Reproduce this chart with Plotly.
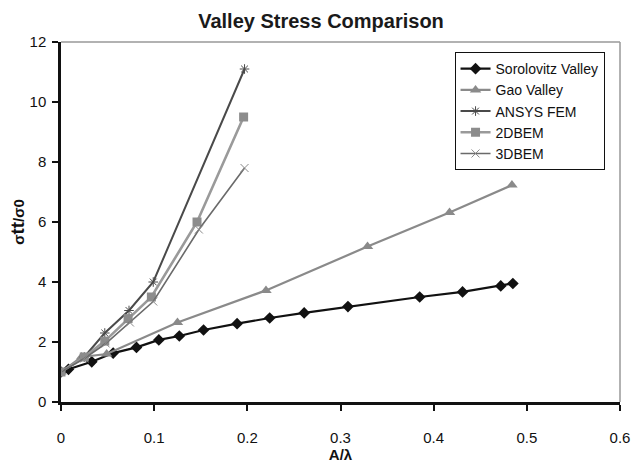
import plotly.graph_objects as go

sor_x = [0, 0.008, 0.033, 0.056, 0.081, 0.105, 0.127, 0.153, 0.189, 0.224, 0.261, 0.308, 0.385, 0.431, 0.472, 0.485]
sor_y = [1.0, 1.09, 1.34, 1.63, 1.82, 2.07, 2.20, 2.40, 2.61, 2.80, 2.97, 3.18, 3.50, 3.67, 3.87, 3.95]

gao_x = [0, 0.022, 0.049, 0.125, 0.22, 0.329, 0.417, 0.484]
gao_y = [1.0, 1.5, 1.6, 2.65, 3.72, 5.18, 6.32, 7.23]

ansys_x = [0, 0.025, 0.047, 0.073, 0.099, 0.197]
ansys_y = [1.0, 1.5, 2.3, 3.05, 4.0, 11.1]

bem2_x = [0, 0.025, 0.047, 0.072, 0.097, 0.146, 0.196]
bem2_y = [1.0, 1.5, 2.03, 2.78, 3.5, 6.0, 9.5]

bem3_x = [0, 0.025, 0.048, 0.074, 0.099, 0.148, 0.197]
bem3_y = [1.0, 1.45, 1.95, 2.65, 3.35, 5.75, 7.8]

x_ticks = [0, 0.1, 0.2, 0.3, 0.4, 0.5, 0.6]
y_ticks = [0, 2, 4, 6, 8, 10, 12]

fig = go.Figure()
fig.add_trace(go.Scatter(x=sor_x, y=sor_y, name="Sorolovitz Valley", mode="lines+markers",
                         line=dict(color="#111111", width=2.2),
                         marker=dict(symbol="diamond", size=9, color="#111111")))
fig.add_trace(go.Scatter(x=gao_x, y=gao_y, name="Gao Valley", mode="lines+markers",
                         line=dict(color="#8a8a8a", width=2.2),
                         marker=dict(symbol="triangle-up", size=10, color="#8a8a8a")))
fig.add_trace(go.Scatter(x=ansys_x, y=ansys_y, name="ANSYS FEM", mode="lines+markers",
                         line=dict(color="#4a4a4a", width=2),
                         marker=dict(symbol="asterisk-open", size=8, color="#4a4a4a",
                                     line=dict(width=1, color="#4a4a4a"))))
fig.add_trace(go.Scatter(x=bem2_x, y=bem2_y, name="2DBEM", mode="lines+markers",
                         line=dict(color="#9a9a9a", width=2.6),
                         marker=dict(symbol="square", size=9, color="#8c8c8c")))
fig.add_trace(go.Scatter(x=bem3_x, y=bem3_y, name="3DBEM", mode="lines+markers",
                         line=dict(color="#6a6a6a", width=1.6),
                         marker=dict(symbol="x-thin-open", size=8, color="#8a8a8a",
                                     line=dict(width=1, color="#8a8a8a"))))

font_family = "Liberation Sans, Arial, sans-serif"

fig.update_layout(
    width=642, height=468,
    margin=dict(l=61, r=20, t=42, b=64),
    paper_bgcolor="white", plot_bgcolor="white",
    font=dict(family=font_family, size=15, color="#111111"),
    title=dict(text="<b>Valley Stress Comparison</b>", x=0.5, xanchor="center",
               y=0.956, yanchor="middle", font=dict(size=20, color="#1a1a1a")),
    showlegend=True,
    legend=dict(x=0.704, y=0.972, xanchor="left", yanchor="top",
                bgcolor="white", bordercolor="#111111", borderwidth=1,
                font=dict(size=14, color="#111111"), tracegroupgap=0,
                itemwidth=30),
    xaxis=dict(range=[0, 0.6], tickvals=x_ticks, ticktext=[str(v) for v in x_ticks],
               showgrid=False, zeroline=False, showline=True, linecolor="#111111", linewidth=2.5,
               ticks="outside", ticklen=6, tickwidth=2, tickcolor="#111111",
               ticklabelstandoff=14,
               title=dict(text="<b>A/λ</b>", standoff=0, font=dict(size=15))),
    yaxis=dict(range=[0, 12], tickvals=y_ticks,
               showgrid=False, zeroline=False, showline=True, linecolor="#111111", linewidth=2.5,
               ticks="outside", ticklen=6, tickwidth=2, tickcolor="#111111",
               ticklabelstandoff=3,
               title=dict(text="<b>σ<span style='font-size:19px'>tt</span>/σ0</b>", standoff=2,
                          font=dict(size=15))),
    shapes=[
        dict(type="line", xref="paper", yref="paper", x0=0, x1=1, y0=1, y1=1,
             line=dict(color="#999999", width=1.5)),
        dict(type="line", xref="paper", yref="paper", x0=1, x1=1, y0=0, y1=1,
             line=dict(color="#999999", width=1.5)),
    ],
)

fig.write_html("out.html")
